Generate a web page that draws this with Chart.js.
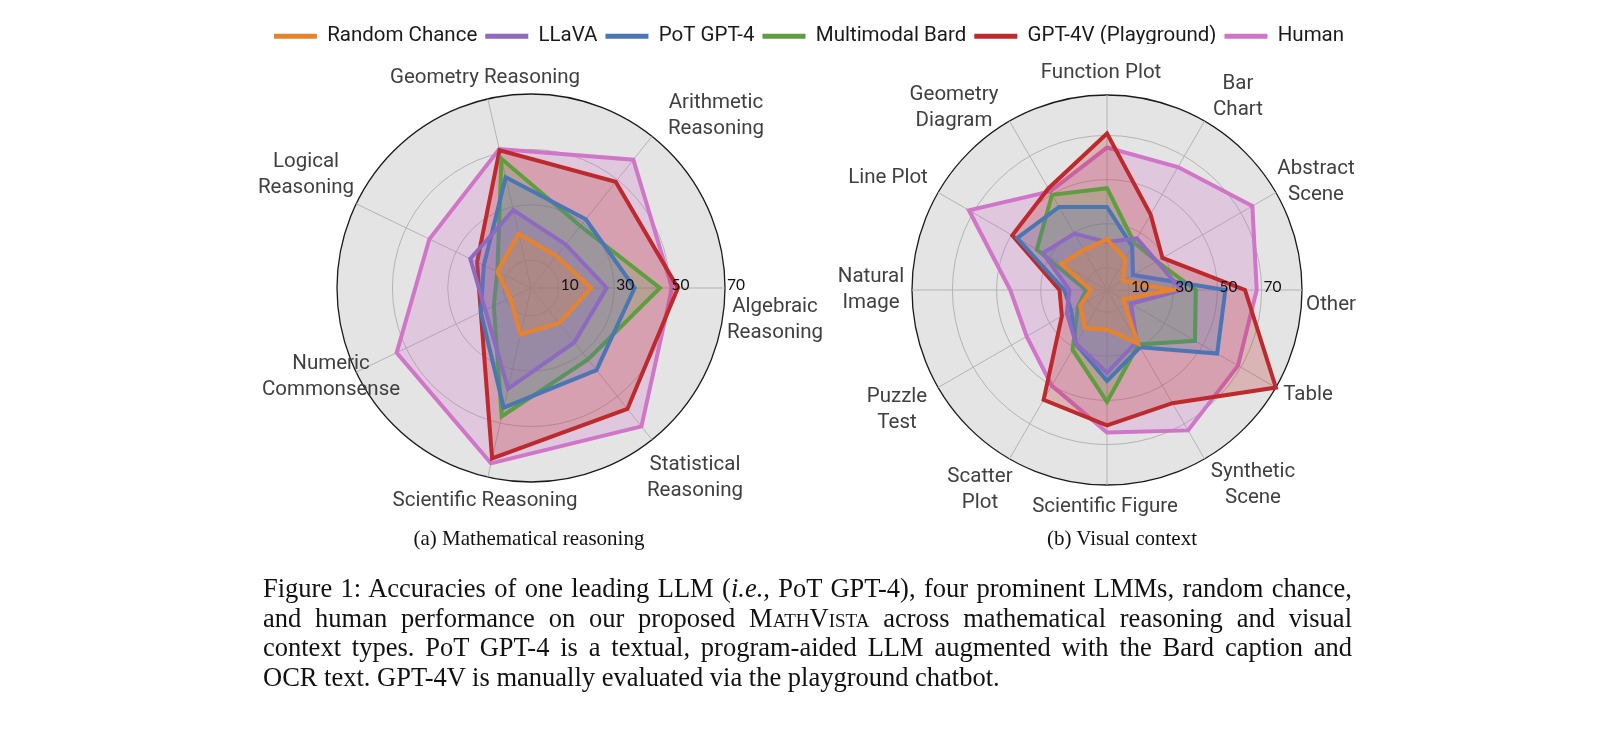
<!DOCTYPE html>
<html lang="en">
<head>
<meta charset="UTF-8">
<title>MathVista accuracies</title>
<script src="https://cdn.jsdelivr.net/npm/chart.js"></script>
<style>
  html, body { margin: 0; padding: 0; background: #fff; }
  body { width: 1618px; height: 743px; position: relative; overflow: hidden; }
  .box { position: absolute; }
  #legendBox { left: 0; top: 0; width: 1618px; height: 70px; }
  #boxA { left: 230px; top: 60px; width: 620px; height: 540px; }
  #boxB { left: 820px; top: 60px; width: 560px; height: 480px; }
  .sub {
    position: absolute; top: 526px; transform: translateX(-50%);
    font: 21px "Liberation Serif", serif; color: #111; white-space: nowrap;
  }
  #caption {
    position: absolute; left: 263px; top: 574px; width: 1089px;
    font: 26.5px "Liberation Serif", serif; line-height: 29.6px; color: #111;
  }
  #caption div { text-align: justify; text-align-last: justify; white-space: nowrap; }
  #caption div.last { text-align-last: left; }
  .sc { font-variant: small-caps; }
</style>
</head>
<body>
  <div class="box" id="legendBox"><canvas id="legend"></canvas></div>
  <div class="box" id="boxA"><canvas id="chartA"></canvas></div>
  <div class="box" id="boxB"><canvas id="chartB"></canvas></div>

  <div class="sub" style="left:529px">(a) Mathematical reasoning</div>
  <div class="sub" style="left:1122px">(b) Visual context</div>

  <div id="caption">
    <div>Figure 1: Accuracies of one leading LLM (<i>i.e.</i>, PoT GPT-4), four prominent LMMs, random chance,</div>
    <div>and human performance on our proposed <span class="sc">MathVista</span> across mathematical reasoning and visual</div>
    <div>context types. PoT GPT-4 is a textual, program-aided LLM augmented with the Bard caption and</div>
    <div class="last">OCR text. GPT-4V is manually evaluated via the playground chatbot.</div>
  </div>

  <script>
    const series = ['Random Chance', 'LLaVA', 'PoT GPT-4', 'Multimodal Bard', 'GPT-4V (Playground)', 'Human'];
    const colors = ['#e8832c', '#8d69bf', '#4a77b4', '#5e9e3f', '#bd292d', '#d075c7'];

    // (a) mathematical reasoning, clockwise from the right
    const mathLabels = [['Algebraic', 'Reasoning'], ['Statistical', 'Reasoning'], 'Scientific Reasoning',
      ['Numeric', 'Commonsense'], ['Logical', 'Reasoning'], 'Geometry Reasoning', ['Arithmetic', 'Reasoning']];
    const mathRandom = [21.7, 16.3, 17.2, 8.3, 13.5, 20.1, 14.7];
    const mathLlava  = [27.3, 25.1, 37.3, 18.3, 24.3, 28.8, 20.1];
    const mathPot    = [37.4, 37.9, 44.3, 20.1, 18.9, 41.0, 31.7];
    const mathBard   = [46.5, 33.0, 47.5, 14.9, 13.5, 47.8, 28.6];
    const mathGpt4v  = [53.0, 55.8, 63.1, 20.1, 21.6, 51.0, 49.0];
    const mathHuman  = [50.9, 63.9, 64.9, 53.8, 40.7, 51.4, 59.2];
    const mathTicks = [10, 30, 50, 70];
    const mathMax = 70;

    // (b) visual context, clockwise from the right
    const visLabels = ['Other', 'Table', ['Synthetic', 'Scene'], 'Scientific Figure', ['Scatter', 'Plot'],
      ['Puzzle', 'Test'], ['Natural', 'Image'], 'Line Plot', ['Geometry', 'Diagram'], 'Function Plot',
      ['Bar', 'Chart'], ['Abstract', 'Scene']];
    const visRandom = [29.6, 8.5, 28.0, 18.0, 20.0, 14.0, 7.4, 23.8, 21.0, 23.0, 16.5, 8.4];
    const visLlava  = [33.7, 12.5, 27.0, 37.5, 28.0, 21.0, 17.0, 33.5, 29.5, 21.7, 27.0, 26.0];
    const visPot    = [53.6, 57.6, 30.0, 41.2, 28.2, 18.7, 19.3, 47.0, 43.4, 37.6, 22.8, 13.6];
    const visBard   = [40.2, 46.0, 28.5, 50.7, 31.2, 15.2, 9.5, 36.7, 49.8, 46.1, 24.7, 26.0];
    const visGpt4v  = [62.5, 88.3, 59.2, 61.3, 57.4, 23.6, 21.5, 49.5, 53.1, 70.9, 39.5, 29.0];
    const visHuman  = [67.8, 68.5, 73.4, 64.5, 50.0, 42.0, 43.8, 72.2, 51.5, 64.5, 64.3, 76.0];
    const visTicks = [10, 30, 50, 70];

    const mathData = [mathRandom, mathLlava, mathPot, mathBard, mathGpt4v, mathHuman];
    const visData = [visRandom, visLlava, visPot, visBard, visGpt4v, visHuman];
    const visMax = Math.max(...visData.flat());

    // where each category name sits, in px from the centre of its radar
    const mathLabelPos = [[244, 32], [164, 190], [-46, 213], [-200, 89], [-225, -113], [-46, -210], [185, -172]];
    const visLabelPos = [[224, 15], [201, 105], [146, 195], [-2, 217], [-127, 200], [-210, 120],
      [-236, 0], [-219, -112], [-153, -182], [-6, -217], [131, -193], [209, -108]];

    Chart.defaults.animation = false;
    Chart.defaults.font.family = 'Roboto';

    function hexA(hex, a) {
      const n = parseInt(hex.slice(1), 16);
      return `rgba(${n >> 16}, ${(n >> 8) & 255}, ${n & 255}, ${a})`;
    }

    function textPlugin(tickVals, labelPos) {
      return {
        id: 'radarText',
        afterDraw(chart) {
          const s = chart.scales.r;
          const ctx = chart.ctx;
          ctx.save();
          ctx.font = '15.5px Lato';
          ctx.fillStyle = '#111';
          ctx.textAlign = 'left';
          ctx.textBaseline = 'alphabetic';
          tickVals.forEach(v => {
            ctx.fillText(String(v), s.xCenter + s.getDistanceFromCenterForValue(v) + 2, s.yCenter + 2);
          });
          ctx.font = '20.5px Roboto';
          ctx.fillStyle = '#404040';
          ctx.textAlign = 'center';
          ctx.textBaseline = 'middle';
          chart.data.labels.forEach((lab, i) => {
            const lines = Array.isArray(lab) ? lab : [lab];
            const cx = s.xCenter + labelPos[i][0];
            const cy = s.yCenter + labelPos[i][1];
            const lh = 26.5;
            lines.forEach((t, k) => {
              ctx.fillText(t, cx, cy + (k - (lines.length - 1) / 2) * lh);
            });
          });
          ctx.restore();
        }
      };
    }

    function radar(id, labels, data, tickVals, max, labelPos, pad) {
      const ticks = [0, ...tickVals];
      if (ticks[ticks.length - 1] < max) ticks.push(max);
      return new Chart(document.getElementById(id), {
        type: 'radar',
        data: {
          labels: labels,
          datasets: series.map((name, i) => ({
            label: name,
            data: data[i],
            borderColor: colors[i],
            backgroundColor: hexA(colors[i], 0.25),
            borderWidth: 4,
            borderJoinStyle: 'miter',
            fill: true,
            tension: 0,
            pointRadius: 0,
            pointHoverRadius: 0
          }))
        },
        plugins: [textPlugin(tickVals, labelPos)],
        options: {
          responsive: true,
          maintainAspectRatio: false,
          layout: { padding: pad },
          plugins: { legend: { display: false }, tooltip: { enabled: false } },
          scales: {
            r: {
              min: 0,
              max: max,
              startAngle: 90,
              backgroundColor: '#e4e4e4',
              afterBuildTicks: scale => { scale.ticks = ticks.map(v => ({ value: v })); },
              grid: {
                circular: true,
                color: c => c.tick && c.tick.value === max ? '#1a1a1a' : '#b4b4b4',
                lineWidth: c => c.tick && c.tick.value === max ? 1.3 : 1
              },
              angleLines: { color: '#b4b4b4', lineWidth: 1 },
              ticks: { display: false },
              pointLabels: { display: false }
            }
          }
        }
      });
    }

    radar('chartA', mathLabels, mathData, mathTicks, mathMax, mathLabelPos,
      { left: 107, top: 34, right: 125, bottom: 118 });
    radar('chartB', visLabels, visData, visTicks, visMax, visLabelPos,
      { left: 92, top: 35, right: 78, bottom: 55 });

    new Chart(document.getElementById('legend'), {
      type: 'line',
      data: {
        labels: [],
        datasets: series.map((name, i) => ({
          label: name, data: [], backgroundColor: colors[i], borderColor: colors[i], borderWidth: 0
        }))
      },
      options: {
        responsive: true,
        maintainAspectRatio: false,
        layout: { padding: { top: 18 } },
        scales: { x: { display: false }, y: { display: false } },
        plugins: {
          tooltip: { enabled: false },
          legend: {
            position: 'top',
            labels: { boxWidth: 43, boxHeight: 5, padding: 8, color: '#1a1a1a', font: { size: 20.5, family: 'Roboto' } }
          }
        }
      }
    });
  </script>
</body>
</html>
